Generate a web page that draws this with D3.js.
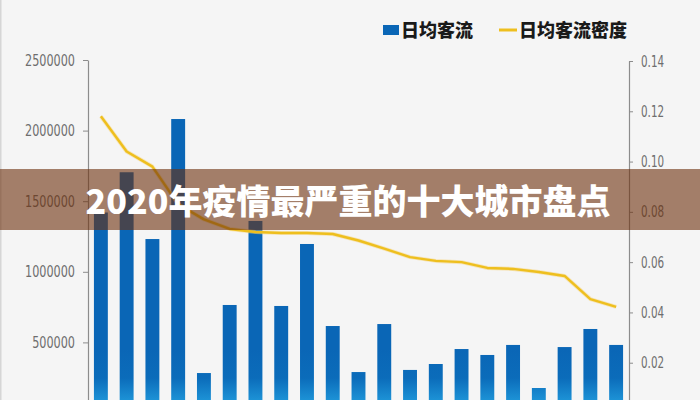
<!DOCTYPE html>
<html><head><meta charset="utf-8">
<script src="https://cdn.jsdelivr.net/npm/d3@7/dist/d3.min.js"></script>
<style>html,body{margin:0;padding:0;background:#f5f5f5;overflow:hidden}</style>
</head><body>
<svg id="chart" width="700" height="400"></svg>
<script>
const categories = ["城市1","城市2","城市3","城市4","城市5","城市6","城市7","城市8","城市9","城市10","城市11","城市12","城市13","城市14","城市15","城市16","城市17","城市18","城市19","城市20","城市21"];
const flowValues = [1420000,1705000,1232000,2082000,283000,765000,1360000,758000,1197000,616000,290000,630000,305000,347000,453000,411000,482000,177000,467000,595000,482000];
const densityValues = [0.118,0.104,0.098,0.083,0.077,0.0732,0.072,0.0716,0.0716,0.0712,0.0686,0.0654,0.062,0.0605,0.060,0.0577,0.0573,0.0561,0.0545,0.0453,0.0422];
const leftTicks = [500000,1000000,1500000,2000000,2500000];
const rightTicks = [0.02,0.04,0.06,0.08,0.10,0.12,0.14];
const seriesNames = ["日均客流","日均客流密度"];
const title = "2020年疫情最严重的十大城市盘点";

const svg = d3.select("#chart");
svg.append("rect").attr("width",700).attr("height",400).attr("fill","#f5f5f5");
svg.append("rect").attr("x",0).attr("y",0).attr("width",1.5).attr("height",400).attr("fill","#d6d6d6");

const x = d3.scaleBand().domain(categories).range([88,629]).paddingInner(0.46).paddingOuter(0.23);
const yL = d3.scaleLinear().domain([0,2500000]).range([413,60]);
const yR = d3.scaleLinear().domain([0,0.14]).range([413,61]);

const defs = svg.append("defs");
const grad = defs.append("linearGradient").attr("id","barGrad").attr("gradientUnits","userSpaceOnUse")
  .attr("x1",0).attr("x2",0).attr("y1",yL(450000)).attr("y2",yL(0));
grad.append("stop").attr("offset","0%").attr("stop-color","#0a66b6");
grad.append("stop").attr("offset","45%").attr("stop-color","#0b6cba");
grad.append("stop").attr("offset","100%").attr("stop-color","#27a8e6");

// bars
svg.append("g").selectAll("rect").data(flowValues).join("rect")
  .attr("x",(d,i)=>x(categories[i]))
  .attr("width",x.bandwidth())
  .attr("y",d=>yL(d))
  .attr("height",d=>yL(0)-yL(d))
  .attr("fill","url(#barGrad)");

// axes
const tickFont = "'Liberation Sans Narrow','DejaVu Sans Condensed',sans-serif";
const gL = svg.append("g").attr("transform","translate(88,0)")
  .call(d3.axisLeft(yL).tickValues(leftTicks).tickSize(5).tickSizeOuter(0).tickPadding(8).tickFormat(d3.format("d")));
const gR = svg.append("g").attr("transform","translate(629,0)")
  .call(d3.axisRight(yR).tickValues(rightTicks).tickSize(4).tickSizeOuter(0).tickPadding(8).tickFormat(d3.format(".2f")));
[gL,gR].forEach(g=>{
  g.select(".domain").attr("stroke","#8c8c8c").attr("stroke-width",1.2);
  g.selectAll(".tick line").attr("stroke","#8c8c8c");
  g.selectAll(".tick text").attr("fill","#6e6e6e").style("font-family",tickFont).style("font-size","16px");
});
gL.selectAll(".tick text").each(function(){const w=this.getComputedTextLength();d3.select(this).attr("textLength",w*0.78).attr("lengthAdjust","spacingAndGlyphs");});
gR.selectAll(".tick text").each(function(){const w=this.getComputedTextLength();d3.select(this).attr("textLength",w*0.72).attr("lengthAdjust","spacingAndGlyphs");});

// line
const line = d3.line().x((d,i)=>x(categories[i])+x.bandwidth()/2).y(d=>yR(d));
svg.append("path").datum(densityValues).attr("d",line)
  .attr("fill","none").attr("stroke","#f7d47a").attr("stroke-width",4).attr("stroke-opacity",0.5).attr("stroke-linejoin","round");
svg.append("path").datum(densityValues).attr("d",line)
  .attr("fill","none").attr("stroke","#eebf1e").attr("stroke-width",2.4).attr("stroke-linejoin","round");

// legend
const lg = svg.append("g").style("font-family","'Noto Sans CJK SC',sans-serif").style("font-weight","900").style("font-size","18px");
lg.append("rect").attr("x",383).attr("y",25).attr("width",16).attr("height",10).attr("fill","#0a66b6");
lg.append("text").attr("x",401).attr("y",37).attr("fill","#1a1a1a").text(seriesNames[0]);
lg.append("line").attr("x1",499).attr("x2",517).attr("y1",30).attr("y2",30).attr("stroke","#eebf1e").attr("stroke-width",3);
lg.append("text").attr("x",519).attr("y",37).attr("fill","#1a1a1a").text(seriesNames[1]);

// banner
svg.append("rect").attr("x",0).attr("y",169).attr("width",700).attr("height",61).attr("fill","rgba(108,46,12,0.6)");
svg.append("text").attr("x",348).attr("y",214).attr("text-anchor","middle")
  .style("font-family","'Noto Sans CJK SC',sans-serif").style("font-weight","900").style("font-size","34px")
  .attr("fill","#ffffff").text(title);
</script>
</body></html>
